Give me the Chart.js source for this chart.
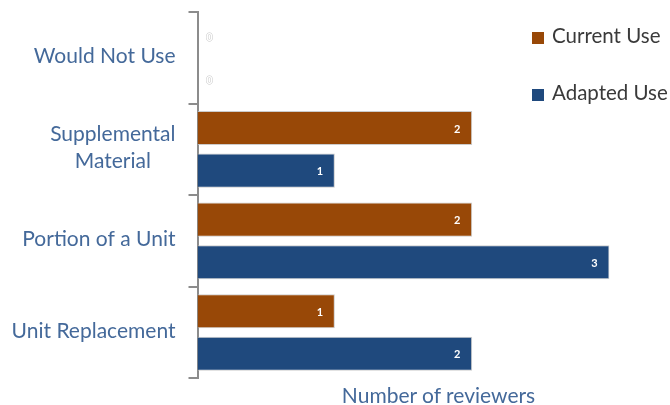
<!DOCTYPE html>
<html><head><meta charset="utf-8">
<script src="https://cdn.jsdelivr.net/npm/chart.js@4"></script>
<style>
html,body{margin:0;padding:0;background:#fff;}
#wrap{position:relative;width:670px;height:405px;overflow:hidden;}
#c{position:absolute;left:0;top:0;}
.leg{position:absolute;left:532px;font-family:Lato,"Open Sans",sans-serif;font-size:20.5px;color:#3a3a3a;white-space:nowrap;line-height:20px;}
.leg i{display:inline-block;width:12px;height:12px;margin-right:8px;vertical-align:-1px;}
#xt{position:absolute;left:0;width:877px;text-align:center;top:382px;font-family:Lato,"Open Sans",sans-serif;font-size:21px;color:#44699a;white-space:nowrap;}
</style></head>
<body>
<div id="wrap">
<canvas id="c" width="670" height="405"></canvas>
<div class="leg" id="leg0" style="top:25px"><i style="background:#984807"></i>Current Use</div>
<div class="leg" id="leg1" style="top:82px"><i style="background:#1f497d"></i>Adapted Use</div>
<div id="xt">Number of reviewers</div>
</div>
<script>
const categories = [['Would Not Use'], ['Supplemental', 'Material'], ['Portion of a Unit'], ['Unit Replacement']];
const seriesNames = ['Current Use', 'Adapted Use'];
const currentUse = [0, 2, 2, 1];
const adaptedUse = [0, 1, 3, 2];
const xMin = 0;
const xMax = 3;

const FONT = 'Lato, "Open Sans", sans-serif';
const LABEL_COLOR = '#44699a';

const yLabelsPlugin = {
  id: 'yLabels',
  afterDraw(chart) {
    const ctx = chart.ctx;
    const ys = chart.scales.y;
    ctx.save();
    ctx.font = '21px ' + FONT;
    ctx.fillStyle = LABEL_COLOR;
    ctx.textAlign = 'center';
    ctx.textBaseline = 'middle';
    const right = ys.right - 22;
    const lh = 27;
    categories.forEach((lines, i) => {
      const cy = ys.getPixelForValue(i);
      const w = Math.max(...lines.map(l => ctx.measureText(l).width));
      const cx = right - w / 2;
      const y0 = cy - (lines.length - 1) * lh / 2 - 1.5;
      lines.forEach((l, k) => ctx.fillText(l, cx, y0 + k * lh));
    });
    ctx.restore();
  }
};

const valueLabelsPlugin = {
  id: 'valueLabels',
  afterDatasetsDraw(chart) {
    const ctx = chart.ctx;
    ctx.save();
    ctx.font = 'bold 11px ' + FONT;
    ctx.textAlign = 'center';
    ctx.textBaseline = 'middle';
    chart.data.datasets.forEach((ds, d) => {
      const meta = chart.getDatasetMeta(d);
      meta.data.forEach((el, i) => {
        const v = ds.data[i];
        if (v > 0) {
          ctx.fillStyle = '#ffffff';
          ctx.fillText(String(v), el.x - 15, el.y + 1);
        } else {
          ctx.lineWidth = 1;
          ctx.strokeStyle = '#c8c8c8';
          ctx.fillStyle = '#ffffff';
          ctx.strokeText(String(v), el.base + 12, el.y + 1);
          ctx.fillText(String(v), el.base + 12, el.y + 1);
        }
      });
    });
    ctx.restore();
  }
};

new Chart(document.getElementById('c'), {
  type: 'bar',
  data: {
    labels: categories.map(l => l.join(' ')),
    datasets: [
      { label: seriesNames[0], data: currentUse, backgroundColor: '#984807', borderColor: 'rgba(190,190,190,0.8)', borderWidth: 1, borderSkipped: 'start' },
      { label: seriesNames[1], data: adaptedUse, backgroundColor: '#1f497d', borderColor: 'rgba(190,190,190,0.8)', borderWidth: 1, borderSkipped: 'start' }
    ]
  },
  options: {
    indexAxis: 'y',
    responsive: false,
    animation: false,
    devicePixelRatio: 1,
    barPercentage: 0.8,
    categoryPercentage: 0.93,
    layout: { padding: { left: 188.5, right: 60.5, top: 12, bottom: 26.7 } },
    plugins: { legend: { display: false }, tooltip: { enabled: false } },
    scales: {
      x: { display: false, min: xMin, max: xMax },
      y: {
        type: 'category',
        ticks: { display: false },
        grid: { drawOnChartArea: false, drawTicks: true, tickLength: 9, color: '#8c8c8c', lineWidth: 2, offset: true },
        border: { display: true, color: '#8c8c8c', width: 2 }
      }
    }
  },
  plugins: [yLabelsPlugin, valueLabelsPlugin]
});
</script>
</body></html>
